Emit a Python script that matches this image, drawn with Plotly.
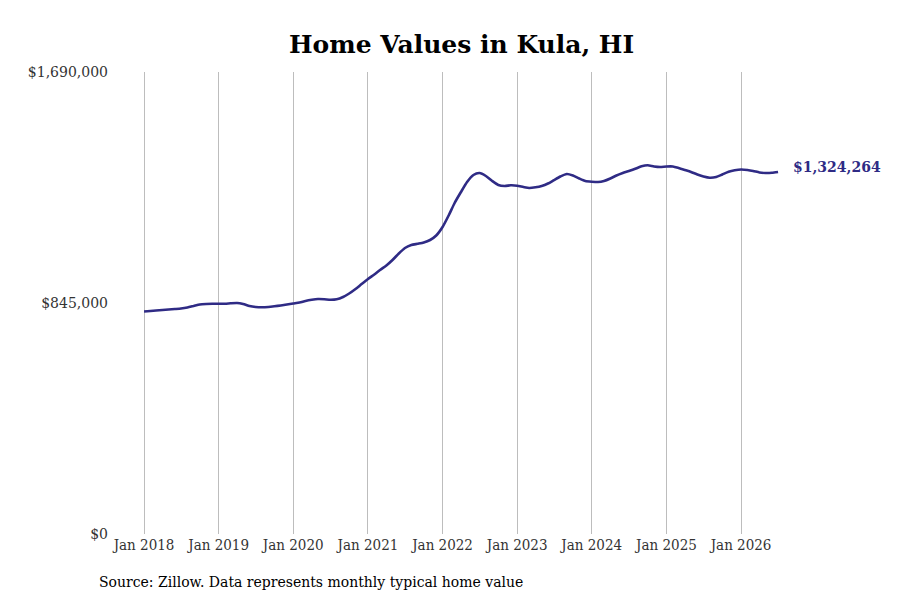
# home values chart - Kula, HI

import pandas as pd
import plotly.graph_objects as go

START_MONTH = "2018-01-01"

# typical home value, one per month from Jan 2018
home_values = [
    813900, 815700, 817600, 819400, 821200, 823000, 824900, 828500, 834000, 839500, 841300, 842100,
    842400, 842100, 843900, 845000, 841300, 834000, 830400, 829300, 830400, 832900, 835900, 839500,
    843200, 846800, 852300, 856700, 859600, 858900, 856700, 858500, 866900, 879700, 896200, 914500,
    932800, 949200, 965700, 982200, 1002300, 1026100, 1046200, 1057200, 1061600, 1066300, 1075500, 1091900,
    1123000, 1166900, 1210800, 1251000, 1287600, 1313200, 1320500, 1309600, 1291300, 1276600, 1273000, 1275500,
    1274100, 1269300, 1265700, 1268200, 1273000, 1282100, 1294900, 1307700, 1316900, 1311400, 1300400, 1291300,
    1288700, 1287600, 1291300, 1300400, 1311400, 1320500, 1327900, 1335900, 1345000, 1348700, 1344300, 1342500,
    1344300, 1344300, 1338800, 1331500, 1324200, 1315100, 1307700, 1303300, 1305900, 1315100, 1324900, 1330400,
    1333300, 1331500, 1327900, 1322400, 1320500, 1321300, 1324264,
]
months = pd.date_range(START_MONTH, periods=len(home_values), freq="MS")

y_ticks = [0, 845000, 1690000]
y_tick_labels = ["$0", "$845,000", "$1,690,000"]
x_ticks = pd.date_range("2018-01-01", "2026-01-01", freq="YS")
x_tick_labels = [d.strftime("Jan %Y") for d in x_ticks]

LINE_COLOR = "#2f2b85"
FONT = "DejaVu Serif"


def main():
        fig = go.Figure()
        fig.add_trace(go.Scatter(
                x=months, y=home_values, mode="lines",
                line=dict(color=LINE_COLOR, width=2.6, shape="spline", smoothing=0.6),
                hoverinfo="x+y", showlegend=False,
        ))

        # last value label at the end of the line
        fig.add_annotation(
                x=months[-1], y=home_values[-1], text="<b>${:,}</b>".format(home_values[-1]),
                xanchor="left", yanchor="middle", xshift=13, yshift=5, showarrow=False,
                font=dict(family=FONT, size=14, color=LINE_COLOR),
        )
        fig.add_annotation(
                xref="paper", yref="paper", x=-0.039, y=-0.104,
                xanchor="left", yanchor="middle", showarrow=False,
                text="Source: Zillow. Data represents monthly typical home value",
                font=dict(family=FONT, size=14, color="#000000"),
        )

        fig.update_layout(
                width=900, height=600,
                margin=dict(l=115, r=123, t=64, b=74),
                paper_bgcolor="white", plot_bgcolor="white",
                font=dict(family=FONT, size=13, color="#333333"),
                title=dict(text="<b>Home Values in Kula, HI</b>", x=0.504, xanchor="center",
                           xref="container", y=0.94, yanchor="middle",
                           font=dict(family=FONT, size=25, color="#000000")),
        )
        fig.update_xaxes(
                range=["2017-09-20", "2026-08-04"],
                tickvals=x_ticks, ticktext=x_tick_labels,
                tickfont=dict(family="DejaVu Serif Condensed", size=15, color="#333333"),
                showgrid=True, gridcolor="#bdbdbd", gridwidth=1,
                showline=False, zeroline=False, ticks="",
        )
        fig.update_yaxes(
                range=[0, 1690000], tickvals=y_ticks, ticktext=y_tick_labels,
                tickfont=dict(family=FONT, size=14, color="#333333"),
                ticklabelstandoff=14,
                showgrid=False, zeroline=False, showline=False, ticks="",
        )

        fig.write_html("out.html")


if __name__ == '__main__':
        main()
